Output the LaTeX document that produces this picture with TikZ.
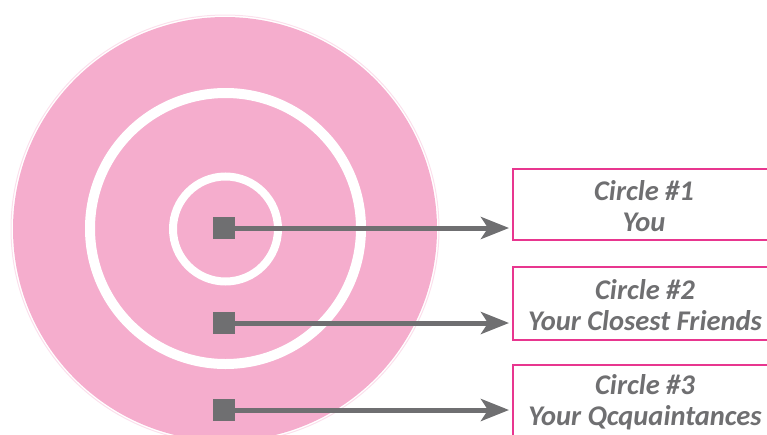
\documentclass[tikz,border=0pt]{standalone}
\usepackage{fontspec}
\setmainfont{Carlito}
\usetikzlibrary{arrows.meta}
\definecolor{ringpink}{HTML}{F5ADCD}
\definecolor{faintpink}{HTML}{FBE0EC}
\definecolor{markgray}{HTML}{6F6F71}
\definecolor{boxpink}{HTML}{E8368F}
\begin{document}
\begin{tikzpicture}[x=1pt,y=-1pt,
  marker/.style={fill=markgray,draw=none,minimum size=22pt,inner sep=0pt,rectangle},
  conn/.style={draw=markgray,line width=5pt,-{Stealth[length=28pt,width=22pt,inset=7pt]}},
  labelbox/.style={draw=boxpink,line width=1.5pt,fill=white,rectangle,inner sep=0pt,anchor=north west},
  labeltext/.style={text=markgray,font=\fontsize{28.5}{31}\selectfont\bfseries\itshape,align=center}]
\useasboundingbox (0,0) rectangle (767,434);
\clip (0,0) rectangle (767,434);
% target rings
\draw[faintpink,line width=1pt] (225,229) circle[radius=214];
\fill[ringpink] (225,229) circle[radius=212];
\draw[white,line width=10pt] (225.5,228.5) circle[radius=135.5];
\draw[white,line width=8pt] (225.5,229) circle[radius=52.5];
% label boxes
\node[labelbox,minimum width=270pt,minimum height=71pt] (b1) at (512,168) {};
\node[labelbox,minimum width=270pt,minimum height=73pt] (b2) at (512,266) {};
\node[labelbox,minimum width=270pt,minimum height=90pt] (b3) at (512,364) {};
\node[labeltext] (t1) at (644,206) {Circle \#1\\You};
\node[labeltext] (t2) at (645,305) {Circle \#2\\Your Closest Friends};
\node[labeltext] (t3) at (645,402) {Circle \#3\\Your Qcquaintances};
% markers
\node[marker] (m1) at (224,228) {};
\node[marker] (m2) at (224,323) {};
\node[marker] (m3) at (224,410) {};
\coordinate (e1) at (509,228);
\coordinate (e2) at (509,323);
\coordinate (e3) at (509,410);
\draw[conn] (m1.east) -- (e1);
\draw[conn] (m2.east) -- (e2);
\draw[conn] (m3.east) -- (e3);
\end{tikzpicture}
\end{document}
